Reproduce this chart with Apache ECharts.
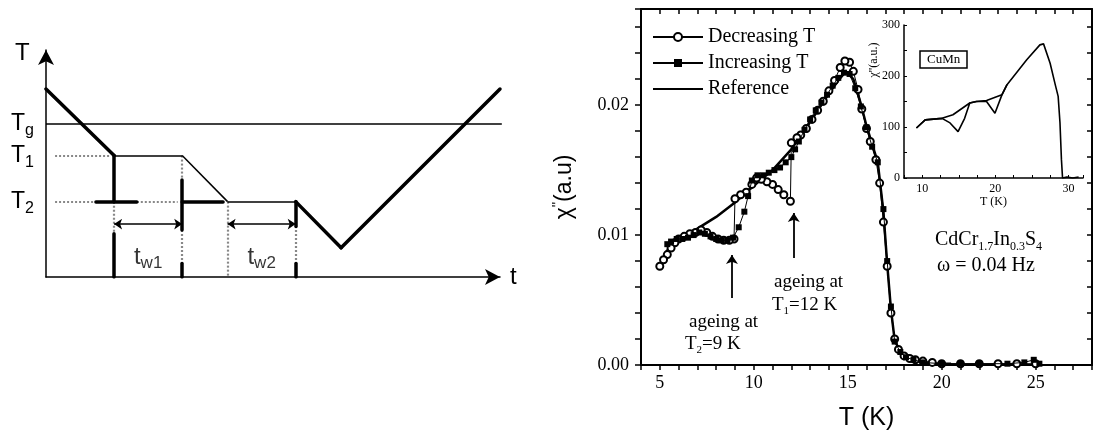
<!DOCTYPE html>
<html><head><meta charset="utf-8">
<script src="https://cdn.jsdelivr.net/npm/echarts@6/dist/echarts.min.js"></script>
<style>html,body{margin:0;padding:0;background:#fff}#c{width:1095px;height:442px}</style>
</head><body><div id="c"></div>
<script>
// ---------- Left panel: ageing protocol schematic (time 0..100, temperature 0..10, arbitrary units)
const schemLevels = [['g', 6.75], ['1', 5.35], ['2', 3.32]];
const schemThick = [
  [[0, 8.28], [15, 5.35]], [[55, 3.32], [65, 1.29]], [[65, 1.29], [100, 8.28]],
  [[15, 5.35], [15, 3.32]], [[15, 1.9], [15, 0]],
  [[30, 4.27], [30, 2.07]], [[30, 0.6], [30, 0]],
  [[55, 3.32], [55, 2.22]], [[55, 0.6], [55, 0]],
  [[11, 3.32], [20, 3.32]], [[30, 3.32], [39, 3.32]]
];
const schemThin = [
  [[0, 6.75], [100.4, 6.75]], [[15, 5.35], [30, 5.35]], [[30, 5.35], [40, 3.32]], [[40, 3.32], [55, 3.32]]
];
const schemDotted = [
  [[2, 5.35], [14, 5.35]], [[2, 3.32], [11, 3.32]], [[20, 3.32], [29, 3.32]],
  [[15, 3.32], [15, 1.9]], [[30, 5.35], [30, 4.27]], [[30, 2.07], [30, 0.6]],
  [[40, 3.32], [40, 0]], [[55, 2.07], [55, 0.6]]
];
const schemArrows = [[[15, 2.33], [30, 2.33]], [[40, 2.33], [55, 2.33]]];
const schemWaitLabels = [[22.5, 0.88, 'w1'], [47.5, 0.88, 'w2']];

// ---------- Main panel: chi'' vs T
const decT = [25.0, 24.0, 23.0, 22.0, 21.0, 20.0, 19.5, 19.0, 18.6, 18.3, 18.0, 17.7, 17.5, 17.3, 17.1, 16.9, 16.7, 16.5, 16.2, 16.0, 15.75, 15.55, 15.3, 15.1, 14.85, 14.6, 14.3, 14.0, 13.7, 13.4, 13.1, 12.8, 12.5, 12.3, 12.0, 11.95, 11.6, 11.3, 11.0, 10.7, 10.4, 10.15, 9.9, 9.6, 9.3, 9.0, 8.95, 8.7, 8.4, 8.1, 7.8, 7.5, 7.2, 6.9, 6.6, 6.3, 6.0, 5.8, 5.6, 5.4, 5.2, 5.0];
const decChi = [0.0001, 0.0001, 0.0001, 0.0001, 0.0001, 0.0001, 0.0002, 0.0003, 0.0004, 0.0005, 0.0007, 0.0012, 0.0020, 0.0040, 0.0076, 0.0110, 0.0140, 0.0158, 0.0172, 0.0182, 0.0197, 0.0212, 0.0226, 0.0233, 0.0234, 0.0229, 0.0219, 0.0211, 0.0203, 0.0196, 0.0189, 0.0182, 0.0177, 0.0175, 0.0171, 0.0126, 0.0131, 0.0135, 0.0139, 0.0141, 0.0143, 0.0144, 0.0139, 0.0133, 0.0131, 0.0128, 0.0097, 0.0096, 0.0096, 0.0097, 0.0099, 0.0102, 0.0104, 0.0102, 0.0101, 0.0099, 0.0097, 0.0094, 0.0090, 0.0085, 0.0081, 0.0076];
const incT = [5.4, 5.6, 5.9, 6.2, 6.5, 6.8, 7.1, 7.4, 7.7, 8.0, 8.3, 8.6, 8.9, 9.2, 9.5, 9.7, 9.9, 10.2, 10.5, 10.8, 11.1, 11.4, 11.7, 12.0, 12.2, 12.4, 12.7, 13.0, 13.3, 13.6, 13.9, 14.2, 14.5, 14.8, 15.1, 15.4, 15.7, 16.0, 16.3, 16.6, 16.9, 17.1, 17.3, 17.5, 17.8, 18.1, 18.5, 19.0, 20.0, 21.0, 22.0, 23.5, 24.4, 24.9, 25.2];
const incChi = [0.0093, 0.0095, 0.0097, 0.0097, 0.0098, 0.0100, 0.0102, 0.0101, 0.0099, 0.0097, 0.0096, 0.0096, 0.0098, 0.0106, 0.0118, 0.0130, 0.0142, 0.0146, 0.0146, 0.0148, 0.0150, 0.0152, 0.0156, 0.0160, 0.0166, 0.0172, 0.0181, 0.0189, 0.0196, 0.0202, 0.0208, 0.0215, 0.0221, 0.0225, 0.0224, 0.0213, 0.0199, 0.0183, 0.0168, 0.0156, 0.0120, 0.0080, 0.0045, 0.0018, 0.0010, 0.0006, 0.0004, 0.0002, 0.0001, 0.0001, 0.0001, 0.0001, 0.0002, 0.0004, 0.0001];
const refT = [5.0, 5.5, 6.0, 7.0, 8.0, 9.0, 10.0, 11.0, 12.0, 13.0, 14.0, 14.5, 14.9, 15.3, 15.7, 16.0, 16.6, 16.9, 17.1, 17.3, 17.5, 17.8, 18.2, 18.7, 19.5, 20.5];
const refChi = [0.0077, 0.0091, 0.0097, 0.0105, 0.0114, 0.0125, 0.0138, 0.0150, 0.0166, 0.0187, 0.0209, 0.0219, 0.0226, 0.0220, 0.0201, 0.0184, 0.0156, 0.0118, 0.0078, 0.0043, 0.0019, 0.0010, 0.0005, 0.0003, 0.0001, 0.0001];
const ageArrows = [[[8.84, 0.00515], [8.84, 0.00846]], [[12.13, 0.00823], [12.13, 0.01169]]];
const mainXLabels = [5, 10, 15, 20, 25];
const mainYLabels = [0, 0.01, 0.02];

// ---------- Inset: CuMn
const insetRefT = [9.2, 10.4, 12.7, 14.2, 16.5, 17.4, 18.8, 20.9, 21.6, 24.3, 26.1, 26.6, 27.5, 28.2, 28.6, 28.85, 29.05, 29.2, 29.8, 30.6, 31.4];
const insetRefChi = [98, 114, 117, 124, 147, 150, 152, 163, 183, 232, 261, 263, 225, 183, 160, 108, 36, 0, 2, 0, 2];
const insetMemT = [9.2, 10.4, 12.7, 13.8, 14.9, 15.8, 16.5, 17.4, 18.8, 19.95, 20.9, 21.6];
const insetMemChi = [98, 114, 117, 108, 91, 117, 147, 150, 150, 127, 163, 183];
const insetXLabels = [10, 20, 30];
const insetYLabels = [0, 100, 200, 300];

const SERIF = '"Liberation Serif", "DejaVu Serif", serif';
const SANS = '"Liberation Sans", Arial, sans-serif';
const zip = (a, b) => a.map((v, i) => [v, b[i]]);
const segs = s => s.map(c => ({ coords: c }));
const near = (v, list, eps) => list.some(x => Math.abs(v - x) < eps);

const chart = echarts.init(document.getElementById('c'), null, { renderer: 'canvas' });

const option = {
  animation: false,
  backgroundColor: '#fff',
  grid: [
    { left: 46, top: 50, width: 454, height: 227 },
    { left: 641, top: 9, right: 3, bottom: 77 },
    { left: 904, top: 25, right: 12, height: 153 }
  ],
  title: {
    text: 'CuMn', left: 920, top: 51, padding: [2, 7],
    borderWidth: 1.5, borderColor: '#000',
    textStyle: { fontSize: 13, fontWeight: 'normal', fontFamily: SERIF, color: '#000' }
  },
  legend: {
    data: ['Decreasing T', 'Increasing T', { name: 'Reference', itemStyle: { opacity: 0 } }],
    orient: 'vertical', left: 647, top: 22, padding: 5, itemGap: 6,
    itemWidth: 50, itemHeight: 10,
    textStyle: { fontSize: 20, lineHeight: 20, fontFamily: SERIF, color: '#000' }
  },
  xAxis: [
    { gridIndex: 0, type: 'value', min: 0, max: 100,
      axisLine: { show: true, symbol: ['none', 'arrow'], symbolSize: [12, 15], lineStyle: { color: '#000', width: 1.5 } },
      axisTick: { show: false }, axisLabel: { show: false }, splitLine: { show: false },
      name: 't', nameLocation: 'end', nameGap: 10,
      nameTextStyle: { fontSize: 24, fontFamily: SANS, color: '#000' } },
    { gridIndex: 1, type: 'value', min: 4, max: 28, interval: 1, position: 'bottom',
      axisLine: { show: true, onZero: false, lineStyle: { color: '#000', width: 2 } },
      axisTick: { show: true, inside: false, length: 5, lineStyle: { color: '#000', width: 1.5 } },
      axisLabel: { margin: 9, fontSize: 18, fontFamily: SERIF, color: '#000',
        formatter: v => near(v, mainXLabels, 1e-6) ? String(Math.round(v)) : '' },
      splitLine: { show: false },
      name: 'T (K)', nameLocation: 'middle', nameGap: 41,
      nameTextStyle: { fontSize: 25, fontFamily: SANS, color: '#000' } },
    { gridIndex: 1, type: 'value', min: 4, max: 28, interval: 1, position: 'top',
      axisLine: { show: true, onZero: false, lineStyle: { color: '#000', width: 2 } },
      axisTick: { show: true, inside: true, length: 5, lineStyle: { color: '#000', width: 1.5 } },
      axisLabel: { show: false }, splitLine: { show: false } },
    { gridIndex: 2, type: 'value', min: 7.5, max: 32, interval: 2.5,
      axisLine: { show: true, onZero: false, lineStyle: { color: '#000', width: 1.5 } },
      axisTick: { show: true, inside: true, length: 3, lineStyle: { color: '#000' } },
      axisLabel: { margin: 5, fontSize: 12, fontFamily: SERIF, color: '#000',
        formatter: v => near(v, insetXLabels, 1e-6) ? String(Math.round(v)) : '' },
      splitLine: { show: false },
      name: 'T (K)', nameLocation: 'middle', nameGap: 15,
      nameTextStyle: { fontSize: 12, fontFamily: SERIF, color: '#000' } }
  ],
  yAxis: [
    { gridIndex: 0, type: 'value', min: 0, max: 10,
      axisLine: { show: true, symbol: ['none', 'arrow'], symbolSize: [12, 15], lineStyle: { color: '#000', width: 1.5 } },
      axisTick: { show: false }, splitLine: { show: false },
      axisLabel: { show: true, margin: 12, customValues: schemLevels.map(l => l[1]),
        formatter: v => { const l = schemLevels.find(x => Math.abs(x[1] - v) < 0.01); return l ? '{a|T}{s|' + l[0] + '}' : ''; },
        rich: {
          a: { fontSize: 23, fontFamily: SANS, color: '#000', lineHeight: 30, verticalAlign: 'middle' },
          s: { fontSize: 16, fontFamily: SANS, color: '#000', lineHeight: 16, verticalAlign: 'bottom' }
        } } },
    { gridIndex: 1, type: 'value', min: 0, max: 0.0274, interval: 0.002, position: 'left',
      axisLine: { show: true, onZero: false, lineStyle: { color: '#000', width: 2 } },
      axisTick: { show: true, inside: false, length: 6, lineStyle: { color: '#000', width: 1.5 } },
      axisLabel: { margin: 12, fontSize: 18, fontFamily: SERIF, color: '#000',
        formatter: v => near(v, mainYLabels, 1e-7) ? v.toFixed(2) : '' },
      splitLine: { show: false },
      name: '{c|χ}{p|\'\'}{n|(a.u)}', nameLocation: 'middle', nameGap: 62, nameRotate: 90,
      nameTextStyle: { rich: {
        c: { fontSize: 23, fontFamily: SANS, color: '#000', lineHeight: 28, verticalAlign: 'middle' },
        p: { fontSize: 14, fontFamily: SANS, color: '#000', lineHeight: 14, verticalAlign: 'top' },
        n: { fontSize: 23, fontFamily: SANS, color: '#000', lineHeight: 28, verticalAlign: 'middle' } } } },
    { gridIndex: 1, type: 'value', min: 0, max: 0.0274, interval: 0.002, position: 'right',
      axisLine: { show: true, onZero: false, lineStyle: { color: '#000', width: 2 } },
      axisTick: { show: true, inside: true, length: 5, lineStyle: { color: '#000', width: 1.5 } },
      axisLabel: { show: false }, splitLine: { show: false } },
    { gridIndex: 2, type: 'value', min: 0, max: 300, interval: 50,
      axisLine: { show: true, onZero: false, lineStyle: { color: '#000', width: 1.5 } },
      axisTick: { show: true, inside: true, length: 3, lineStyle: { color: '#000' } },
      axisLabel: { margin: 4, fontSize: 12, fontFamily: SERIF, color: '#000',
        formatter: v => near(v, insetYLabels, 1e-6) ? String(Math.round(v)) : '' },
      splitLine: { show: false } }
  ],
  graphic: [
    { type: 'text', x: 15, y: 53, style: { text: 'T', font: '24px ' + SANS, fill: '#000', align: 'left', verticalAlign: 'middle' } },
    { type: 'text', x: 689, y: 322, style: { text: 'ageing at', font: '19px ' + SERIF, fill: '#000', align: 'left', verticalAlign: 'middle' } },
    { type: 'text', x: 685, y: 344, style: { text: '{n|T}{s|2}{n|=9 K}', align: 'left', verticalAlign: 'middle',
      rich: { n: { fontSize: 19, fontFamily: SERIF, fill: '#000', lineHeight: 24, verticalAlign: 'middle' },
              s: { fontSize: 11, fontFamily: SERIF, fill: '#000', lineHeight: 11, verticalAlign: 'bottom' } } } },
    { type: 'text', x: 774, y: 282, style: { text: 'ageing at', font: '19px ' + SERIF, fill: '#000', align: 'left', verticalAlign: 'middle' } },
    { type: 'text', x: 772, y: 305, style: { text: '{n|T}{s|1}{n|=12 K}', align: 'left', verticalAlign: 'middle',
      rich: { n: { fontSize: 19, fontFamily: SERIF, fill: '#000', lineHeight: 24, verticalAlign: 'middle' },
              s: { fontSize: 11, fontFamily: SERIF, fill: '#000', lineHeight: 11, verticalAlign: 'bottom' } } } },
    { type: 'text', x: 935, y: 240, style: { text: '{n|CdCr}{s|1.7}{n|In}{s|0.3}{n|S}{s|4}', align: 'left', verticalAlign: 'middle',
      rich: { n: { fontSize: 20, fontFamily: SERIF, fill: '#000', lineHeight: 26, verticalAlign: 'middle' },
              s: { fontSize: 12, fontFamily: SERIF, fill: '#000', lineHeight: 12, verticalAlign: 'bottom' } } } },
    { type: 'text', x: 937, y: 266, style: { text: 'ω = 0.04 Hz', font: '20px ' + SERIF, fill: '#000', align: 'left', verticalAlign: 'middle' } },
    { type: 'text', x: 874, y: 60, rotation: Math.PI / 2, style: { text: "χ''(a.u.)", font: '12px ' + SERIF, fill: '#000', align: 'center', verticalAlign: 'middle' } }
  ],
  series: [
    // schematic
    { type: 'lines', coordinateSystem: 'cartesian2d', xAxisIndex: 0, yAxisIndex: 0, polyline: false, silent: true, z: 2,
      lineStyle: { color: '#888', width: 2.2, type: [2, 2], opacity: 1 }, data: segs(schemDotted) },
    { type: 'lines', coordinateSystem: 'cartesian2d', xAxisIndex: 0, yAxisIndex: 0, polyline: false, silent: true, z: 3,
      lineStyle: { color: '#000', width: 1.5, opacity: 1 }, data: segs(schemThin) },
    { type: 'lines', coordinateSystem: 'cartesian2d', xAxisIndex: 0, yAxisIndex: 0, polyline: false, silent: true, z: 4,
      lineStyle: { color: '#000', width: 3.5, opacity: 1, cap: 'round' }, data: segs(schemThick) },
    { type: 'lines', coordinateSystem: 'cartesian2d', xAxisIndex: 0, yAxisIndex: 0, polyline: false, silent: true, z: 4,
      symbol: ['arrow', 'arrow'], symbolSize: 8,
      lineStyle: { color: '#000', width: 1.5, opacity: 1 }, data: segs(schemArrows) },
    { type: 'scatter', xAxisIndex: 0, yAxisIndex: 0, symbolSize: 0, silent: true,
      data: schemWaitLabels.map(d => ({ value: [d[0], d[1]], sub: d[2] })),
      label: { show: true, position: 'inside', formatter: p => '{a|t}{s|' + p.data.sub + '}',
        rich: { a: { fontSize: 24, fontFamily: SANS, color: '#000', lineHeight: 30, verticalAlign: 'middle' },
                s: { fontSize: 17, fontFamily: SANS, color: '#000', lineHeight: 17, verticalAlign: 'bottom' } } } },
    // main
    { name: 'Reference', type: 'line', xAxisIndex: 1, yAxisIndex: 1, data: zip(refT, refChi),
      showSymbol: false, symbol: 'none', lineStyle: { color: '#000', width: 2.5 }, itemStyle: { color: '#000' }, z: 3 },
    { name: 'Decreasing T', type: 'line', xAxisIndex: 1, yAxisIndex: 1, data: zip(decT, decChi),
      symbol: 'emptyCircle', symbolSize: 7, lineStyle: { color: '#000', width: 1 },
      itemStyle: { color: '#000', borderColor: '#000', borderWidth: 1.2 }, z: 4 },
    { name: 'Increasing T', type: 'line', xAxisIndex: 1, yAxisIndex: 1, data: zip(incT, incChi),
      symbol: 'rect', symbolSize: 6, lineStyle: { color: '#000', width: 1 },
      itemStyle: { color: '#000' }, z: 5 },
    { type: 'lines', coordinateSystem: 'cartesian2d', xAxisIndex: 1, yAxisIndex: 1, polyline: false, silent: true, z: 6,
      symbol: ['none', 'arrow'], symbolSize: 9,
      lineStyle: { color: '#000', width: 1.8, opacity: 1 }, data: segs(ageArrows) },
    // inset
    { type: 'line', xAxisIndex: 3, yAxisIndex: 3, data: zip(insetRefT, insetRefChi), showSymbol: false, symbol: 'none',
      lineStyle: { color: '#000', width: 1.6 } },
    { type: 'line', xAxisIndex: 3, yAxisIndex: 3, data: zip(insetMemT, insetMemChi), showSymbol: false, symbol: 'none',
      lineStyle: { color: '#000', width: 1.6 } }
  ]
};
chart.setOption(option);
</script>
</body></html>
